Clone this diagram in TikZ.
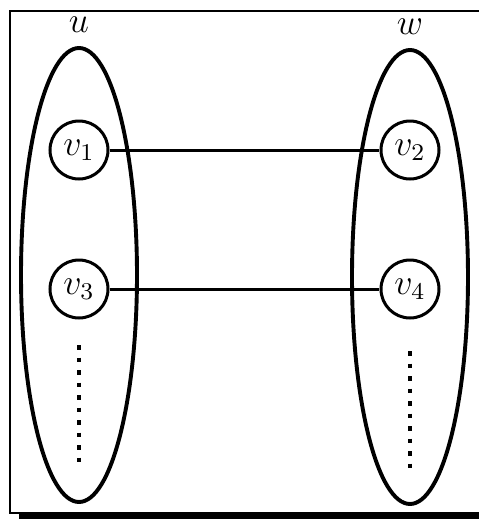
\documentclass[tikz,border=0pt]{standalone}
\usetikzlibrary{shapes.geometric}
\begin{document}
\begin{tikzpicture}[x=0.333pt,y=-0.333pt]
\useasboundingbox (0,0) rectangle (478,519);
% frame with shadow
\fill (19,514) rectangle (490,519);
\draw[line width=0.7pt] (490,11) -- (10,11) -- (10,513) -- (490,513);
% the two sides
\node[draw, ellipse, line width=1.3pt, minimum width=116*0.333pt, minimum height=454*0.333pt, inner sep=0pt, label={[yshift=1pt, font=\large]above:$u$}] (U) at (79,275) {};
\node[draw, ellipse, line width=1.3pt, minimum width=116*0.333pt, minimum height=454*0.333pt, inner sep=0pt, label={[yshift=1pt, font=\large]above:$w$}] (W) at (410,277) {};
\node[draw, circle, line width=1pt, minimum size=58*0.333pt, inner sep=0pt, font=\large] (v1) at (79,150) {$v_1$};
\node[draw, circle, line width=1pt, minimum size=58*0.333pt, inner sep=0pt, font=\large] (v2) at (410,150) {$v_2$};
\node[draw, circle, line width=1pt, minimum size=58*0.333pt, inner sep=0pt, font=\large] (v3) at (79,289) {$v_3$};
\node[draw, circle, line width=1pt, minimum size=58*0.333pt, inner sep=0pt, font=\large] (v4) at (410,289) {$v_4$};
\draw[line width=1pt] (v1) -- (v2);
\draw[line width=1pt] (v3) -- (v4);
% more vertices
\coordinate (d1) at (79,345);
\coordinate (d2) at (79,467);
\coordinate (d3) at (410,351);
\coordinate (d4) at (410,472);
\draw[line width=1pt, dash pattern=on 1.5pt off 2.67pt] (d1) -- (d2);
\draw[line width=1pt, dash pattern=on 1.5pt off 2.67pt] (d3) -- (d4);
\end{tikzpicture}
\end{document}
